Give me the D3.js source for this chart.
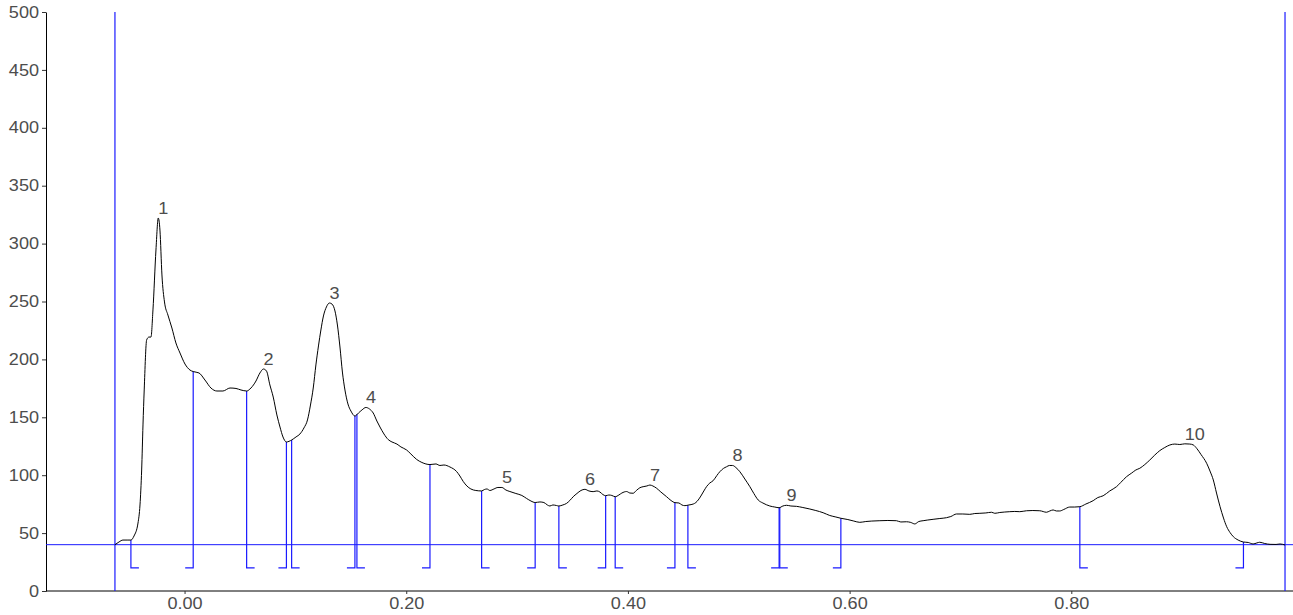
<!DOCTYPE html>
<html>
<head>
<meta charset="utf-8">
<script src="https://cdn.jsdelivr.net/npm/d3@7"></script>
<style>
  html, body { margin: 0; padding: 0; background: #fff; }
  svg { display: block; font-family: "Liberation Sans", Arial, Helvetica, sans-serif; }
</style>
</head>
<body>
<svg id="chart" width="1293" height="615"></svg>
<script>
// Densitometric lane profile: retention factor (Rf) vs. signal intensity
const rf = [
  -0.0628,-0.0592,-0.0556,-0.0511,-0.0484,-0.0456,-0.0420,-0.0402,-0.0387,-0.0375,
  -0.0364,-0.0342,-0.0321,-0.0303,-0.0285,-0.0258,-0.0237,-0.0222,-0.0204,-0.0181,
  -0.0150,-0.0114,-0.0078,-0.0041,0.0004,0.0049,0.0078,0.0130,0.0184,0.0238,
  0.0292,0.0346,0.0410,0.0464,0.0509,0.0560,0.0599,0.0644,0.0680,0.0712,
  0.0739,0.0770,0.0800,0.0833,0.0861,0.0888,0.0919,0.0966,0.1005,0.1041,
  0.1077,0.1109,0.1136,0.1161,0.1185,0.1208,0.1230,0.1253,0.1280,0.1307,
  0.1330,0.1357,0.1379,0.1402,0.1424,0.1447,0.1474,0.1501,0.1537,0.1569,
  0.1600,0.1636,0.1668,0.1702,0.1735,0.1763,0.1799,0.1837,0.1871,0.1916,
  0.1952,0.2003,0.2042,0.2094,0.2141,0.2214,0.2268,0.2304,0.2340,0.2394,
  0.2454,0.2484,0.2514,0.2547,0.2583,0.2628,0.2680,0.2705,0.2728,0.2755,
  0.2791,0.2827,0.2863,0.2899,0.2935,0.2989,0.3043,0.3086,0.3125,0.3163,
  0.3206,0.3242,0.3273,0.3296,0.3323,0.3356,0.3377,0.3413,0.3447,0.3476,
  0.3506,0.3540,0.3576,0.3612,0.3648,0.3686,0.3720,0.3747,0.3774,0.3799,
  0.3828,0.3855,0.3885,0.3918,0.3945,0.3988,0.4018,0.4047,0.4076,0.4108,
  0.4144,0.4171,0.4198,0.4225,0.4259,0.4297,0.4349,0.4388,0.4424,0.4460,
  0.4487,0.4514,0.4550,0.4589,0.4613,0.4634,0.4658,0.4685,0.4709,0.4739,
  0.4769,0.4802,0.4829,0.4861,0.4890,0.4915,0.4944,0.4974,0.5010,0.5055,
  0.5100,0.5136,0.5175,0.5217,0.5280,0.5325,0.5364,0.5398,0.5431,0.5470,
  0.5521,0.5578,0.5641,0.5695,0.5761,0.5821,0.5876,0.5921,0.5984,0.6038,
  0.6092,0.6146,0.6200,0.6273,0.6345,0.6423,0.6462,0.6513,0.6552,0.6588,
  0.6624,0.6663,0.6705,0.6753,0.6814,0.6874,0.6913,0.6964,0.7021,0.7084,
  0.7129,0.7175,0.7229,0.7280,0.7310,0.7355,0.7400,0.7445,0.7490,0.7535,
  0.7596,0.7653,0.7716,0.7776,0.7806,0.7836,0.7865,0.7896,0.7932,0.7986,
  0.8031,0.8077,0.8131,0.8197,0.8239,0.8287,0.8347,0.8408,0.8446,0.8498,
  0.8545,0.8582,0.8618,0.8663,0.8708,0.8753,0.8798,0.8843,0.8889,0.8934,
  0.8979,0.9024,0.9069,0.9101,0.9131,0.9170,0.9221,0.9251,0.9281,0.9310,
  0.9342,0.9373,0.9402,0.9432,0.9462,0.9505,0.9553,0.9596,0.9640,0.9674,
  0.9700,0.9745,0.9793,0.9847,0.9883,0.9928
];

const intensity = [
  40,42.3,44,44,44,47.5,58.7,74.3,104.5,143.4,
  173.6,216.8,219.3,219.3,242.7,294.5,322.1,311.7,272.9,249.6,
  238.3,227.1,214.2,205.5,196,190.8,189.5,188.3,182.2,175.3,
  172.7,172.7,175.3,174.9,173.6,172.7,175.3,181.3,188.3,191.7,
  190,177.9,167.5,152,141.6,133,128.7,130.4,133,135.6,
  140.8,147.7,160.6,175.3,195.2,211.6,225.4,237.5,245.3,248.7,
  247.8,241.8,229.7,210.7,189.1,173.6,161.5,155.4,151.1,153.7,
  156.3,158.5,157.2,153.7,146.8,141.6,135.6,130.8,128.7,126.9,
  124.4,121.8,118.3,113.6,111,109.2,109.7,108.4,108.8,107.1,
  103.2,99.3,94.6,90.7,88.1,86.8,86.4,87.6,88.1,86.8,
  88.1,89.4,89.4,87.2,85.9,84.2,82.5,79.9,77.7,76.4,
  76.9,76.4,74.3,73.4,74.3,73.8,73.4,74.3,75.7,78.2,
  81.4,84.2,86.8,87.8,86.4,85.8,86.4,85.5,83.3,82.3,
  82.9,82.5,81.4,82.9,84.6,85.9,84.6,84.4,86.8,89.2,
  90.2,90.7,91.5,90.7,88.7,85.5,81.4,78.2,76.3,76,
  74.3,73.7,74.3,75.1,76.4,78.6,82,86.4,90.1,93.3,
  95.3,99.7,103,105.8,107.3,108.4,108.4,106.6,103,96.7,
  90.1,84.2,78.6,76,73.4,72.5,71.9,73.4,74,73.4,
  73.1,72.1,70.8,69.5,67.6,65.2,63.9,62.8,61.7,60.4,
  59.3,60,60.4,60.7,60.9,60.7,59.6,59.8,59.2,57.9,
  60,60.7,61.3,61.9,62.6,63.3,64.3,66.5,66.5,66.2,
  66.9,67.1,67.4,68,67.1,67.8,68.2,68.5,68.7,68.5,
  69.3,69.5,69.3,68,69.1,70,69.1,69.1,70.4,72.5,
  72.5,72.8,75.1,78,80.7,82.2,86.4,90.1,93.7,98.7,
  101.9,104.5,106,109.2,113.1,117.4,121.2,123.9,126.1,126.9,
  126.5,127.1,126.9,126.1,123.2,117.9,110.3,103.6,95.9,84.6,
  72.8,63,55.5,50.5,46.9,44,42.3,41.9,40.6,41.5,
  42.1,41,40.3,40.2,40.6,39.7
];

// Detected peaks: label, apex position/height, integration window
const peakLabels = ["1","2","3","4","5","6","7","8","9","10"];
const peakRf     = [-0.0237,0.0712,0.1307,0.1636,0.2863,0.3612,0.4198,0.4944,0.5431,0.9024];
const peakHeight = [322.1,191.7,248.7,158.5,89.4,87.8,91.5,108.4,74,127.1];
const peakStart  = [-0.0484,0.0560,0.0966,0.1555,0.2680,0.3377,0.3885,0.4541,0.5370,0.8077];
const peakEnd    = [0.0078,0.0919,0.1537,0.2214,0.3163,0.3799,0.4424,0.5364,0.5921,0.9553];

// Lane limits, baseline and the floor of the boundary markers
const laneLimits = [-0.0628, 0.9928];
const baselineLevel = 40;
const markerFloor = 20;

const xTicks = [0, 0.2, 0.4, 0.6, 0.8];
const yTicks = [0, 50, 100, 150, 200, 250, 300, 350, 400, 450, 500];

const svg = d3.select("#chart");
const plotLeft = 46, plotRight = 1293, plotTop = 12, plotBottom = 591;
const textStretch = 1.13;   // labels are set slightly wide

const x = d3.scaleLinear().domain([-0.125, 1.0]).range([plotLeft, plotRight]);
const y = d3.scaleLinear().domain([0, 500]).range([plotBottom, plotTop]);

const profile = rf.map((r, i) => ({ r, v: intensity[i] }));
const bis = d3.bisector(d => d.r).left;
function valueAt(r) {
  const i = Math.max(1, Math.min(profile.length - 1, bis(profile, r)));
  const a = profile[i - 1], b = profile[i];
  const t = (r - a.r) / (b.r - a.r);
  return a.v + t * (b.v - a.v);
}

const blue = "#1a1aff";

// Axes
const xAxis = d3.axisBottom(x).tickValues(xTicks).tickFormat(d3.format(".2f"))
  .tickSizeOuter(0).tickSizeInner(3).tickPadding(4);
const yAxis = d3.axisLeft(y).tickValues(yTicks)
  .tickSizeOuter(0).tickSizeInner(4).tickPadding(3);

const gx = svg.append("g").attr("transform", `translate(0,${plotBottom})`).call(xAxis);
const gy = svg.append("g").attr("transform", `translate(${plotLeft},0)`).call(yAxis);
[gx, gy].forEach(g => {
  g.select(".domain").attr("stroke", "#000").attr("stroke-width", 1);
  g.selectAll(".tick line").attr("stroke", "#333");
  g.selectAll(".tick text").attr("fill", "#4d4d4d").style("font-size", "16px")
    .style("font-family", "'Liberation Sans', Arial, sans-serif");
});
gx.select(".domain").attr("d", `M${plotLeft},0H${plotRight}`);
gx.selectAll(".tick text").attr("transform", `scale(${textStretch},1)`);
gy.selectAll(".tick text").attr("x", 0).attr("transform", `translate(-7,0) scale(${textStretch},1)`);

// Lane limits and baseline
svg.append("g").selectAll("line").data(laneLimits).join("line")
  .attr("x1", d => x(d)).attr("x2", d => x(d))
  .attr("y1", y(500)).attr("y2", y(0))
  .attr("stroke", blue).attr("stroke-width", 1.2);

svg.append("line")
  .attr("x1", plotLeft).attr("x2", plotRight)
  .attr("y1", y(baselineLevel)).attr("y2", y(baselineLevel))
  .attr("stroke", blue).attr("stroke-width", 1);

// Peak boundary markers: start bracket ticks right, end bracket ticks left
const marks = [];
peakStart.forEach(s => marks.push({ r: s, dir: 1 }));
peakEnd.forEach(e => marks.push({ r: e, dir: -1 }));
svg.append("g").selectAll("path").data(marks).join("path")
  .attr("d", d => {
    const px = x(d.r);
    return `M${px},${y(valueAt(d.r))}V${y(markerFloor)}h${d.dir * 8}`;
  })
  .attr("fill", "none").attr("stroke", blue).attr("stroke-width", 1.2);

// Profile trace
const line = d3.line().x(d => x(d.r)).y(d => y(d.v)).curve(d3.curveMonotoneX);
svg.append("path").datum(profile)
  .attr("d", line)
  .attr("fill", "none").attr("stroke", "#000").attr("stroke-width", 1);

// Peak numbers
svg.append("g").selectAll("text").data(peakLabels).join("text")
  .attr("transform", (d, i) =>
    `translate(${x(peakRf[i])},${y(peakHeight[i]) - 4}) scale(${textStretch},1)`)
  .attr("text-anchor", "start")
  .attr("fill", "#4d4d4d")
  .style("font-size", "16px")
  .text(d => d);
</script>
</body>
</html>
